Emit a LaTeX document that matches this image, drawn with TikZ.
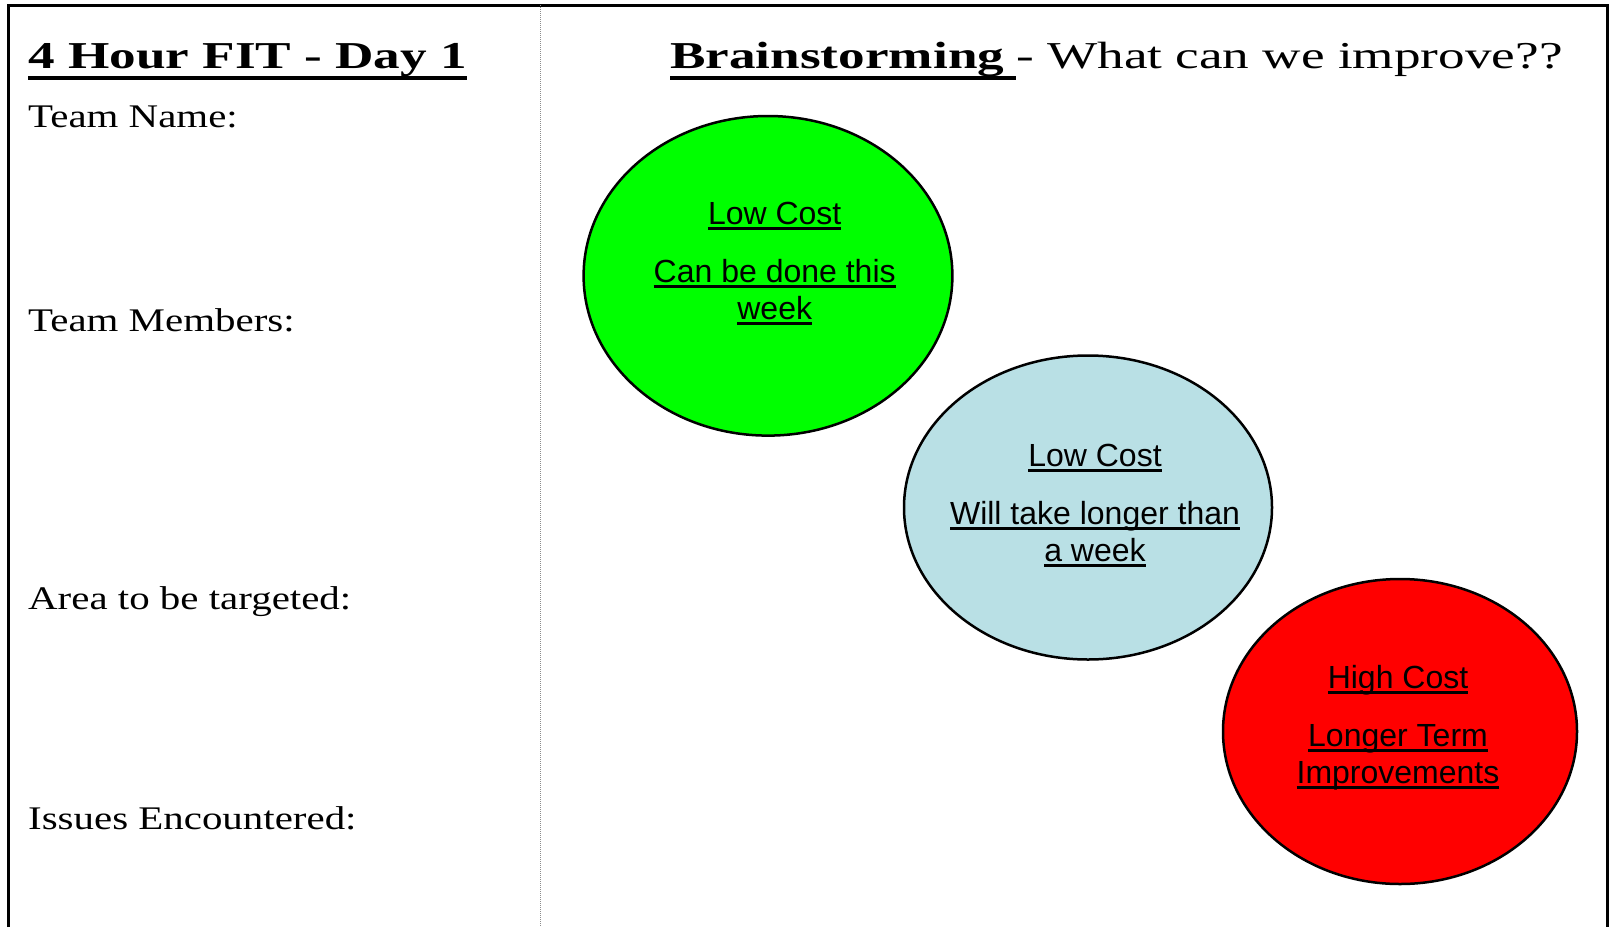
\documentclass[tikz,border=0pt]{standalone}
\usepackage{fontspec}
\setmainfont{Liberation Serif}
\newfontfamily\headfont[FakeStretch=1.40]{Liberation Serif}
\newfontfamily\formfont[FakeStretch=1.24]{Liberation Serif}
\newfontfamily\bubblefont{Liberation Sans}

% underlined text with a set depth and weight
\newlength\ulndepth
\newlength\ulnweight
\newsavebox\ulnbox
\newcommand\uln[1]{\sbox\ulnbox{#1}\rlap{\rule[-\ulndepth]{\wd\ulnbox}{\ulnweight}}\usebox\ulnbox}
\newcommand\headrule{\setlength{\ulndepth}{11pt}\setlength{\ulnweight}{4pt}}
\newcommand\bubblerule{\setlength{\ulndepth}{5.5pt}\setlength{\ulnweight}{2.6pt}}

\definecolor{quickgreen}{RGB}{0,255,0}
\definecolor{slowblue}{RGB}{185,224,229}
\definecolor{costred}{RGB}{255,0,0}

\begin{document}
\begin{tikzpicture}[x=1pt,y=1pt,yscale=-1,xscale=1]
	\useasboundingbox (0,0) rectangle (1611,927);

	% Frame
	\draw [line width=3]    (8.5,927) -- (8.5,5) -- (1607,5) -- (1607,927) ;
	% Divider
	\draw [color={rgb, 255:red, 140; green, 140; blue, 140 }, line width=1, dash pattern=on 1pt off 1pt]    (540,5) -- (540,927) ;

	% Text Node
	\draw (28,68.5) node (title) [anchor=base west][inner sep=0pt] [font=\headfont\bfseries\fontsize{38}{44}\selectfont\headrule]  {\uln{4 Hour FIT - Day 1}};
	% Text Node
	\draw (28,127.5) node (teamname) [anchor=base west][inner sep=0pt] [font=\formfont\fontsize{33}{38}\selectfont]  {Team Name:};
	% Text Node
	\draw (28,331) node (members) [anchor=base west][inner sep=0pt] [font=\formfont\fontsize{33}{38}\selectfont]  {Team Members:};
	% Text Node
	\draw (28,609) node (area) [anchor=base west][inner sep=0pt] [font=\formfont\fontsize{33}{38}\selectfont]  {Area to be targeted:};
	% Text Node
	\draw (28,829) node (issues) [anchor=base west][inner sep=0pt] [font=\formfont\fontsize{33}{38}\selectfont]  {Issues Encountered:};
	% Text Node
	\draw (670,68.5) node (brain) [anchor=base west][inner sep=0pt] [font=\headfont\fontsize{38}{44}\selectfont\headrule]  {\textbf{\uln{Brainstorming\hspace{12pt}}}- What can we improve??};

	% Shape: Ellipse
	\draw  [fill=quickgreen, line width=2.5]  (768,275.8) ellipse [x radius=184.4, y radius=159.8] ;
	% Shape: Ellipse
	\draw  [fill=slowblue, line width=2.5]  (1088,507.5) ellipse [x radius=184, y radius=152] ;
	% Shape: Ellipse
	\draw  [fill=costred, line width=2.5]  (1400,731.5) ellipse [x radius=177, y radius=152.5] ;

	% Text Node
	\draw (774.7,201.5) node (quick) [anchor=north][inner sep=0pt] [font=\bubblefont\fontsize{32}{37}\selectfont\bubblerule] [align=center]  {\uln{Low Cost}\\[21pt]\uln{Can be done this}\\\uln{week}};
	% Text Node
	\draw (1095,443.8) node (slow) [anchor=north][inner sep=0pt] [font=\bubblefont\fontsize{32}{37}\selectfont\bubblerule] [align=center]  {\uln{Low Cost}\\[21pt]\uln{Will take longer than}\\\uln{a week}};
	% Text Node
	\draw (1398,664.7) node (costly) [anchor=north][inner sep=0pt] [font=\bubblefont\fontsize{32}{37}\selectfont\bubblerule] [align=center]  {\uln{High Cost}\\[21pt]\uln{Longer Term}\\\uln{Improvements}};

\end{tikzpicture}
\end{document}
